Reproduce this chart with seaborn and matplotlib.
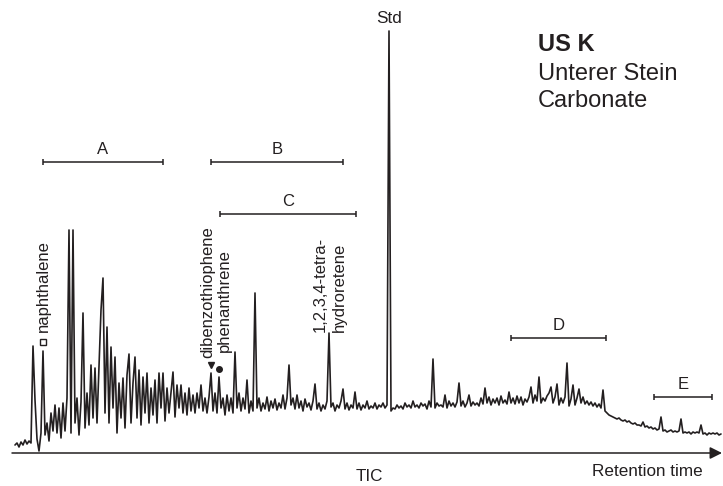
import numpy as np
import seaborn as sns
import matplotlib.pyplot as plt
import pandas as pd

# TIC trace, one reading every 2 units of retention time (starting at 15)
tic_start = 15
tic_step = 2
tic = [
    8, 10, 6, 11, 8, 13, 9, 12, 10, 107,
    53, 14, 2, 20, 102, 18, 30, 12, 40, 22,
    48, 20, 45, 15, 50, 22, 55, 223, 20, 223,
    30, 55, 18, 51, 140, 25, 60, 28, 88, 35,
    85, 30, 85, 143, 175, 40, 126, 30, 106, 45,
    96, 20, 70, 35, 75, 25, 78, 99, 30, 70,
    96, 35, 83, 28, 76, 40, 80, 30, 65, 38,
    73, 30, 80, 45, 80, 32, 65, 40, 60, 81,
    36, 68, 45, 68, 40, 60, 38, 65, 42, 58,
    40, 60, 45, 68, 42, 55, 40, 56, 80, 42,
    60, 40, 76, 45, 55, 38, 58, 42, 55, 40,
    101, 45, 60, 42, 55, 44, 73, 40, 52, 42,
    160, 45, 55, 42, 50, 44, 56, 42, 52, 45,
    54, 43, 50, 45, 58, 44, 55, 88, 48, 55,
    44, 58, 45, 52, 42, 54, 46, 50, 43, 52,
    69, 44, 50, 42, 48, 44, 52, 120, 46, 50,
    42, 48, 45, 52, 64, 44, 50, 43, 48, 45,
    61, 44, 50, 43, 48, 45, 52, 44, 47, 45,
    50, 44, 48, 46, 50, 45, 48, 422, 42, 45,
    44, 48, 45, 47, 44, 50, 46, 48, 45, 52,
    46, 48, 45, 50, 47, 49, 44, 52, 46, 94,
    45, 50, 47, 48, 46, 58, 45, 52, 47, 50,
    46, 51, 70, 47, 52, 46, 50, 58, 47, 51,
    48, 50, 47, 55, 49, 65, 50, 56, 48, 54,
    50, 55, 48, 57, 50, 53, 49, 61, 50, 55,
    49, 57, 50, 56, 48, 54, 51, 56, 66, 50,
    58, 52, 76, 50, 55, 52, 57, 60, 66, 50,
    56, 69, 48, 55, 50, 56, 90, 47, 54, 68,
    48, 55, 64, 50, 56, 49, 52, 48, 51, 47,
    50, 46, 49, 45, 63, 42, 40, 38, 37, 36,
    35, 34, 35, 33, 32, 33, 31, 32, 30, 29,
    30, 28, 28, 27, 31, 26, 27, 25, 26, 24,
    25, 23, 24, 36, 22, 23, 21, 22, 23, 21,
    22, 21, 22, 34, 20, 21, 20, 21, 19, 21,
    20, 21, 20, 28, 19, 20, 18, 20, 19, 20,
    19, 20, 18, 19,
]

# fraction ranges
range_names = ["A", "B", "C", "D", "E"]
range_start = [43, 211, 220, 511, 654]
range_end = [163, 343, 356, 606, 712]
range_level = [291, 291, 239, 115, 56]

# compound labels
compounds = ["naphthalene", "dibenzothiophene", "phenanthrene", "1,2,3,4-tetra-", "hydroretene"]
compound_x = [43, 208, 224, 320, 339]
compound_y = [121, 95, 101, 121, 121]
marker_x = [43, 211, 219]
marker_y = [111, 88, 84]
marker_shape = ["s", "v", "o"]

ink = "#231f20"

sns.set_style("white")
plt.rcParams["font.family"] = ["Liberation Sans", "DejaVu Sans"]

df = pd.DataFrame({"rt": tic_start + tic_step * np.arange(len(tic)), "tic": tic})

fig = plt.figure(figsize=(7.23, 4.86), dpi=100)
ax = fig.add_axes([0, 0, 1, 1])
sns.lineplot(data=df, x="rt", y="tic", ax=ax, color=ink, lw=1.2)
ax.set_xlim(0, 723)
ax.set_ylim(-33, 453)
ax.axis("off")

# retention time axis
ax.annotate("", xy=(722, 0), xytext=(12, 0),
            arrowprops=dict(arrowstyle="-|>,head_length=0.4,head_width=0.2",
                            mutation_scale=18, lw=1.1, color=ink,
                            shrinkA=0, shrinkB=0))
ax.text(369, -23, "TIC", ha="center", va="center", fontsize=12.3, color=ink)
ax.text(647, -18.5, "Retention time", ha="center", va="center", fontsize=12.3, color=ink)
ax.text(389.5, 434.5, "Std", ha="center", va="center", fontsize=12.3, color=ink)

for name, a, b, lev in zip(range_names, range_start, range_end, range_level):
    ax.errorbar((a + b) / 2, lev, xerr=(b - a) / 2, fmt="none", ecolor=ink,
                elinewidth=1.1, capsize=2.2, capthick=1.1)
    ax.text((a + b) / 2, lev + 12.5, name, ha="center", va="center",
            fontsize=12, color=ink)

for name, x, y in zip(compounds, compound_x, compound_y):
    ax.text(x, y, name, rotation=90, ha="center", va="bottom",
            fontsize=12, color=ink)

for x, y, m in zip(marker_x, marker_y, marker_shape):
    face = "white" if m == "s" else ink
    ax.plot(x, y, marker=m, ms=4, mfc=face, mec=ink, mew=1.0)

ax.text(538, 408, "US K", ha="left", va="center", fontsize=17,
        fontweight="bold", color=ink)
ax.text(538, 379, "Unterer Stein", ha="left", va="center", fontsize=17, color=ink)
ax.text(538, 352, "Carbonate", ha="left", va="center", fontsize=17, color=ink)

fig.savefig("out.png", dpi=100)
